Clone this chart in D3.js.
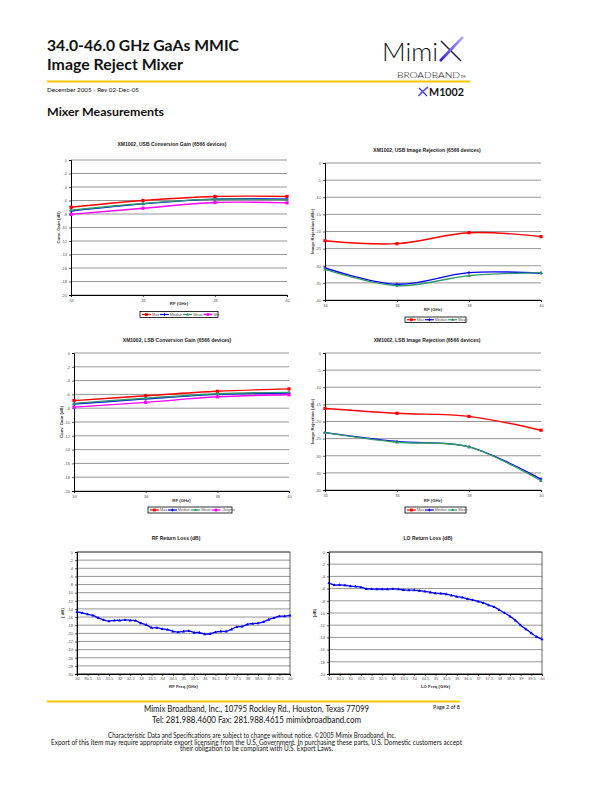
<!DOCTYPE html>
<html><head><meta charset="utf-8">
<script src="https://cdn.jsdelivr.net/npm/d3@7"></script>
<style>body{margin:0;background:#fff} svg{display:block}</style>
</head><body>
<svg id="page" width="612" height="792"></svg>
<script>
// ---------------- DATA ----------------
const rfGHz = [34, 36, 38, 40];
const usbGainMax    = [-7.0, -6.0, -5.4, -5.4];
const usbGainMedian = [-7.55, -6.5, -5.8, -5.8];
const usbGainMean   = [-7.45, -6.45, -5.8, -5.9];
const usbGainMin    = [-8.05, -7.15, -6.3, -6.35];

const usbIrMax    = [-22.7, -23.55, -20.35, -21.5];
const usbIrMedian = [-30.65, -35.4, -32.0, -32.2];
const usbIrMean   = [-31.05, -35.8, -32.9, -32.0];

const lsbGainMax    = [-6.9, -6.2, -5.55, -5.2];
const lsbGainMedian = [-7.4, -6.65, -6.0, -5.8];
const lsbGainMean   = [-7.3, -6.55, -5.9, -5.7];
const lsbGain3Sigma = [-7.85, -7.15, -6.35, -6.05];

const lsbIrMax    = [-16.2, -17.6, -18.5, -22.55];
const lsbIrMedian = [-23.25, -25.85, -27.4, -36.8];
const lsbIrMean   = [-23.25, -26.05, -27.4, -37.3];

const lossFreq = [30, 30.25, 30.5, 30.75, 31, 31.25, 31.5, 31.75, 32, 32.25, 32.5, 32.75,
  33, 33.25, 33.5, 33.75, 34, 34.25, 34.5, 34.75, 35, 35.25, 35.5, 35.75, 36, 36.25,
  36.5, 36.75, 37, 37.25, 37.5, 37.75, 38, 38.25, 38.5, 38.75, 39, 39.25, 39.5, 39.75, 40];
const rfReturnLoss = [-14.7, -15.0, -15.3, -15.6, -16.2, -16.7, -17.0, -16.8, -16.8, -16.7,
  -16.8, -16.9, -17.5, -17.9, -18.6, -18.6, -18.9, -19.1, -19.5, -19.7, -19.5, -19.4,
  -19.8, -19.8, -20.2, -20.1, -19.7, -19.5, -19.5, -19.0, -18.4, -18.3, -17.8, -17.6,
  -17.5, -17.2, -16.6, -16.2, -15.8, -15.8, -15.6];
const loReturnLoss = [-5.05, -5.4, -5.4, -5.45, -5.6, -5.65, -5.75, -6.05, -6.05, -6.1,
  -6.1, -6.1, -6.05, -6.1, -6.2, -6.25, -6.25, -6.35, -6.45, -6.6, -6.75, -6.8, -6.9,
  -7.1, -7.3, -7.45, -7.7, -7.85, -8.1, -8.35, -8.7, -9.0, -9.5, -10.0, -10.55, -11.2,
  -12.0, -12.65, -13.3, -13.9, -14.3];
const lossTickLabels = ["30","30.5","31","31.5","32","32.5","33","33.5","34","34.5","35",
  "35.5","36","36.5","37","37.5","38","38.5","39","39.5","40"];

const gainTicks = [0, -2, -4, -6, -8, -10, -12, -14, -16, -18, -20];
const irTicks = [0, -5, -10, -15, -20, -25, -30, -35, -40];
const rfLossTicks = [0, -2, -4, -6, -8, -10, -12, -14, -16, -18, -20, -22, -24, -26, -28, -30];
const loLossTicks = [0, -2, -4, -6, -8, -10, -12, -14, -16, -18, -20];

// ---------------- STYLE ----------------
const COL = {max: "#ff0000", median: "#0000ff", mean: "#339966", min: "#ff00ff"};
const SYM = {max: "square", median: "cross", mean: "triangle", min: "square"};
const svg = d3.select("#page");
const AF = "'Liberation Sans', Arial, sans-serif";

function marker(g, type, cx, cy, color, s) {
  if (type === "square") {
    g.append("rect").attr("x", cx - s/2).attr("y", cy - s/2).attr("width", s).attr("height", s).attr("fill", color);
  } else if (type === "triangle") {
    g.append("path").attr("d", `M${cx},${cy - s*0.6}L${cx + s*0.55},${cy + s*0.4}L${cx - s*0.55},${cy + s*0.4}Z`).attr("fill", color);
  } else if (type === "cross") {
    g.append("path").attr("d", `M${cx - s/2},${cy}H${cx + s/2}M${cx},${cy - s/2}V${cy + s/2}`).attr("stroke", color).attr("stroke-width", 0.9);
  }
}

function drawChart(c) {
  const g = svg.append("g");
  const x = d3.scaleLinear().domain(c.xDomain).range([c.left, c.right]);
  const y = d3.scaleLinear().domain([0, c.yTicks[c.yTicks.length - 1]]).range([c.top, c.bottom]);
  // gridlines
  g.append("g").selectAll("line").data(c.yTicks).join("line")
    .attr("x1", c.left).attr("x2", c.right).attr("y1", d => y(d)).attr("y2", d => y(d))
    .attr("stroke", "#8a8a8a").attr("stroke-width", 0.9);
  if (c.box) {
    g.append("rect").attr("x", c.left).attr("y", c.top).attr("width", c.right - c.left).attr("height", c.bottom - c.top)
      .attr("fill", "none").attr("stroke", "#000").attr("stroke-width", 0.6);
  }
  // axes
  const ya = g.append("g").attr("transform", `translate(${c.left},0)`)
    .call(d3.axisLeft(y).tickValues(c.yTicks).tickSize(2).tickPadding(2).tickFormat(d => String(d)));
  const xa = g.append("g").attr("transform", `translate(0,${c.bottom})`)
    .call(d3.axisBottom(x).tickValues(c.xTicks).tickSize(2).tickPadding(c.xPad || 2)
      .tickFormat((d, i) => c.xLabels ? c.xLabels[i] : String(d)));
  [ya, xa].forEach(a => {
    a.select(".domain").attr("stroke", "#000").attr("stroke-width", 1);
    a.selectAll(".tick line").attr("stroke", "#000").attr("stroke-width", 0.6);
    a.selectAll("text").attr("font-family", AF).attr("font-size", 4).attr("fill", "#555");
  });
  // series
  const line = d3.line().x(d => x(d[0])).y(d => y(d[1])).curve(d3.curveCatmullRom.alpha(0));
  c.series.forEach(s => {
    const pts = c.xs.map((v, i) => [v, s.values[i]]);
    g.append("path").attr("d", line(pts)).attr("fill", "none").attr("stroke", s.color).attr("stroke-width", c.lw || 1.4);
    const mg = g.append("g");
    pts.forEach(p => marker(mg, s.sym, x(p[0]), y(p[1]), s.color, c.ms || 3.2));
  });
  // title & labels
  g.append("text").attr("x", c.titleX).attr("y", c.titleY).attr("text-anchor", "middle")
    .attr("font-family", AF).attr("font-weight", "bold").attr("font-size", 5).attr("fill", "#222").text(c.title);
  g.append("text").attr("x", (c.left + c.right) / 2).attr("y", c.xLabelY).attr("text-anchor", "middle")
    .attr("font-family", AF).attr("font-weight", "bold").attr("font-size", 4.3).attr("fill", "#333").text(c.xLabel);
  g.append("text").attr("transform", `translate(${c.yLabelX},${(c.top + c.bottom) / 2}) rotate(-90)`)
    .attr("text-anchor", "middle").attr("font-family", AF).attr("font-weight", "bold").attr("font-size", 4.3)
    .attr("fill", "#333").text(c.yLabel);
  // legend
  if (c.legend) {
    const L = c.legend;
    const lg = g.append("g");
    lg.append("rect").attr("x", L.x).attr("y", L.y).attr("width", L.w).attr("height", L.h)
      .attr("fill", "#fff").attr("stroke", "#000").attr("stroke-width", 0.8);
    const cy = L.y + L.h / 2;
    const items = c.series.map(s => {
      const ig = lg.append("g");
      ig.append("line").attr("x1", 0).attr("x2", 9).attr("y1", cy).attr("y2", cy)
        .attr("stroke", s.color).attr("stroke-width", 1.2);
      marker(ig, s.sym, 4.5, cy, s.color, 2.8);
      const t = ig.append("text").attr("x", 10).attr("y", cy + 1.4).attr("font-family", AF)
        .attr("font-size", 3.8).attr("fill", "#555").text(s.name);
      return {ig, w: 10 + t.node().getComputedTextLength()};
    });
    const total = d3.sum(items, d => d.w);
    const gap = Math.max(0.8, (L.w - 3 - total) / items.length);
    let cx = L.x + 1.5 + gap / 2;
    items.forEach(it => { it.ig.attr("transform", `translate(${cx},0)`); cx += it.w + gap; });
  }
}

const gainSeries = (a, b, c2, d, lastName) => [
  {name: "Max", values: a, color: COL.max, sym: SYM.max},
  {name: "Median", values: b, color: COL.median, sym: SYM.median},
  {name: "Mean", values: c2, color: COL.mean, sym: SYM.mean},
  {name: lastName, values: d, color: COL.min, sym: SYM.min}
];
const irSeries = (a, b, c2) => [
  {name: "Max", values: a, color: COL.max, sym: SYM.max},
  {name: "Median", values: b, color: COL.median, sym: SYM.median},
  {name: "Mean", values: c2, color: COL.mean, sym: SYM.mean}
];

drawChart({left: 71, right: 287, top: 160, bottom: 295, xDomain: [34, 40], xs: rfGHz, xTicks: rfGHz,
  yTicks: gainTicks, title: "XM1002, USB Conversion Gain (6566 devices)", titleX: 172, titleY: 146,
  xLabel: "RF (GHz)", xLabelY: 305, yLabel: "Conv. Gain (dB)", yLabelX: 59.5,
  series: gainSeries(usbGainMax, usbGainMedian, usbGainMean, usbGainMin, "Min"),
  legend: {x: 140, y: 311.5, w: 78, h: 6}});

drawChart({left: 325, right: 541, top: 163, bottom: 300, xDomain: [34, 40], xs: rfGHz, xTicks: rfGHz,
  yTicks: irTicks, title: "XM1002, USB Image Rejection (6566 devices)", titleX: 427, titleY: 151.5,
  xLabel: "RF (GHz)", xLabelY: 311, yLabel: "Image Rejection (dBc)", yLabelX: 314,
  series: irSeries(usbIrMax, usbIrMedian, usbIrMean),
  legend: {x: 405, y: 317, w: 61, h: 5.5}});

drawChart({left: 74, right: 289, top: 353, bottom: 491, xDomain: [34, 40], xs: rfGHz, xTicks: rfGHz,
  yTicks: gainTicks, title: "XM1002, LSB Conversion Gain (6566 devices)", titleX: 177, titleY: 341.5,
  xLabel: "RF (GHz)", xLabelY: 502, yLabel: "Conv. Gain (dB)", yLabelX: 62.5,
  series: gainSeries(lsbGainMax, lsbGainMedian, lsbGainMean, lsbGain3Sigma, "-3sigma"),
  legend: {x: 148, y: 507, w: 84, h: 6}});

drawChart({left: 325, right: 541, top: 353, bottom: 490, xDomain: [34, 40], xs: rfGHz, xTicks: rfGHz,
  yTicks: irTicks, title: "XM1002, LSB Image Rejection (6566 devices)", titleX: 427, titleY: 341.5,
  xLabel: "RF (GHz)", xLabelY: 502, yLabel: "Image Rejection (dBc)", yLabelX: 314,
  series: irSeries(lsbIrMax, lsbIrMedian, lsbIrMean),
  legend: {x: 405, y: 507, w: 61, h: 6}});

drawChart({left: 77, right: 290, top: 552, bottom: 674, box: true, xDomain: [30, 40], xs: lossFreq,
  xTicks: lossTickLabels.map(Number), xLabels: lossTickLabels, xPad: 1.5,
  yTicks: rfLossTicks, title: "RF Return Loss (dB)", titleX: 176, titleY: 539.5,
  xLabel: "RF Freq (GHz)", xLabelY: 687.5, yLabel: "( dB)", yLabelX: 64,
  lw: 1.3, ms: 2.8,
  series: [{name: "RF", values: rfReturnLoss, color: "#0000ff", sym: "triangle"}]});

drawChart({left: 329, right: 542, top: 552, bottom: 674, box: true, xDomain: [30, 40], xs: lossFreq,
  xTicks: lossTickLabels.map(Number), xLabels: lossTickLabels, xPad: 1.5,
  yTicks: loLossTicks, title: "LO Return Loss (dB)", titleX: 428, titleY: 539.5,
  xLabel: "LO Freq (GHz)", xLabelY: 687.5, yLabel: "(dB)", yLabelX: 315.5,
  lw: 1.3, ms: 2.8,
  series: [{name: "LO", values: loReturnLoss, color: "#0000ff", sym: "triangle"}]});

// ---------------- HEADER ----------------
const HF = "Lato, 'Open Sans', sans-serif";
function txt(x, y, s, size, opts = {}) {
  const t = svg.append("text").attr("x", x).attr("y", y).attr("font-family", opts.family || HF)
    .attr("font-size", size).attr("font-weight", opts.weight || "normal").attr("fill", opts.fill || "#111")
    .attr("text-anchor", opts.anchor || "start").text(s);
  if (opts.len) t.attr("textLength", opts.len).attr("lengthAdjust", "spacingAndGlyphs");
  return t;
}
txt(47, 50.5, "34.0-46.0 GHz GaAs MMIC", 15, {weight: "bold", len: 192});
txt(47, 69.5, "Image Reject Mixer", 15, {weight: "bold", len: 136});
svg.append("line").attr("x1", 47).attr("x2", 470).attr("y1", 81.5).attr("y2", 81.5)
  .attr("stroke", "#f6c800").attr("stroke-width", 2);
txt(47, 91.5, "December 2005 - Rev 02-Dec-05", 6.5, {len: 92});
txt(47, 116, "Mixer Measurements", 11.5, {weight: "bold", len: 117});

// logo
txt(382, 61, "Mimi", 26, {weight: 300, len: 56, fill: "#111"});
const grad = svg.append("defs").append("linearGradient").attr("id", "xg")
  .attr("x1", "0").attr("y1", "1").attr("x2", "1").attr("y2", "0");
grad.append("stop").attr("offset", "0").attr("stop-color", "#2a1fd8");
grad.append("stop").attr("offset", "1").attr("stop-color", "#b9a8ff");
svg.append("path").attr("d", "M441,41 L461,61").attr("stroke", "#1a1a40").attr("stroke-width", 1.4);
svg.append("path").attr("d", "M440,61 C447,54 454,46 463,37").attr("stroke", "url(#xg)").attr("stroke-width", 2.6).attr("fill", "none");
txt(397, 77.5, "BROADBAND", 8.5, {weight: 300, len: 63});
txt(460.5, 77.5, "TM", 3.2, {});

// part number
svg.append("path").attr("d", "M419,88 L427,96").attr("stroke", "#3a2ee0").attr("stroke-width", 1.2);
svg.append("path").attr("d", "M418.5,96 C421,93 424,90 428,87").attr("stroke", "#6a5cf5").attr("stroke-width", 1.8).attr("fill", "none");
txt(429, 96, "M1002", 10.5, {weight: "bold", len: 35});

// ---------------- FOOTER ----------------
svg.append("line").attr("x1", 47).attr("x2", 460).attr("y1", 701.5).attr("y2", 701.5)
  .attr("stroke", "#f6c800").attr("stroke-width", 2);
txt(256.5, 712, "Mimix Broadband, Inc., 10795 Rockley Rd., Houston, Texas 77099", 9, {anchor: "middle", len: 225});
txt(256.5, 722.5, "Tel: 281.988.4600  Fax: 281.988.4615  mimixbroadband.com", 9, {anchor: "middle", len: 209});
txt(460, 709, "Page 2 of 8", 6.3, {anchor: "end", len: 27});
txt(252, 737.5, "Characteristic Data and Specifications are subject to change without notice. \u00A92005 Mimix Broadband, Inc.", 7, {anchor: "middle", len: 288});
txt(256.5, 744.5, "Export of this item may require appropriate export licensing from the U.S. Government. In purchasing these parts, U.S. Domestic customers accept", 7, {anchor: "middle", len: 411});
txt(256.5, 751, "their obligation to be compliant with U.S. Export Laws.", 7, {anchor: "middle", len: 153});
</script>
</body></html>
